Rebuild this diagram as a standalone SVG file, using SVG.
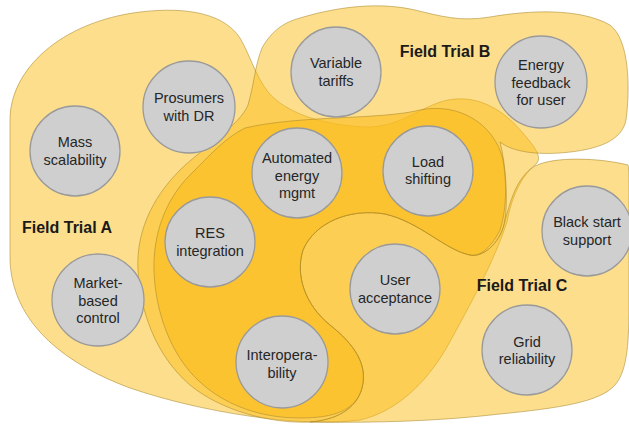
<svg xmlns="http://www.w3.org/2000/svg" width="629" height="425" viewBox="0 0 629 425">
<style>
.blob{fill:#FBBD1A;fill-opacity:0.5;stroke:#A8862A;stroke-opacity:0.55;stroke-width:1}
#core{fill-opacity:0.6}
.node circle{fill:#CFCFCF;stroke:#9A9A9A;stroke-width:1.3}
.node text{font-family:"Liberation Sans",Arial,sans-serif;font-size:14.5px;fill:#262626;text-anchor:middle}
.title{font-family:"Liberation Sans",Arial,sans-serif;font-size:16px;font-weight:bold;fill:#1a1a1a;text-anchor:middle}
</style>
<rect width="629" height="425" fill="#ffffff"/>
<g id="regions">
<path id="trialA" class="blob" d="M 10,120 C 10,70 60,22 140,12 C 190,6 225,15 240,38 C 250,55 255,75 268,92 C 285,112 320,125 365,127 C 400,128 420,106 448,100 C 480,94 505,112 522,132 C 534,146 542,156 537,163 C 522,175 512,195 507,222 C 494,262 470,305 447,347 C 425,385 395,412 360,420 C 300,428 200,412 130,388 C 60,362 12,320 10,260 Z"/>
<path id="trialB" class="blob" d="M 300,18 C 340,6 380,2 415,10 C 440,16 460,22 490,17 C 530,10 580,8 610,25 C 630,40 630,90 626,120 C 622,140 600,150 560,153 C 530,155 510,150 500,142 C 506,165 508,200 505,220 C 502,240 485,258 470,255 C 445,250 420,222 385,214 C 350,208 315,222 303,250 C 295,275 305,305 330,325 C 355,345 368,365 362,388 C 356,410 335,420 310,422 C 270,424 220,410 190,385 C 155,355 140,310 138,270 C 136,235 150,200 180,170 C 205,146 240,125 248,105 C 254,85 255,65 262,48 C 272,30 285,22 300,18 Z"/>
<path id="trialC" class="blob" d="M 628,165 C 600,158 555,156 535,166 C 515,178 510,205 505,220 C 502,240 485,258 470,255 C 445,250 420,222 385,214 C 350,208 315,222 303,250 C 295,275 305,305 330,325 C 355,345 368,365 362,388 C 356,410 335,420 310,422 C 380,423 440,421 500,414 C 560,408 600,402 615,385 C 628,370 629,340 629,300 L 629,200 C 629,180 629,168 628,165 Z"/>
<path id="core" class="blob" d="M 245,128 C 300,115 380,120 420,110 C 460,102 495,125 503,160 C 508,190 505,215 500,230 C 490,250 478,257 470,255 C 445,250 420,222 385,214 C 350,208 315,222 303,250 C 295,275 305,305 330,325 C 355,345 368,365 362,388 C 356,410 335,418 300,418 C 260,418 225,405 200,382 C 170,355 155,310 154,270 C 153,235 165,200 190,175 C 210,155 225,138 245,128 Z"/>
</g>
<text class="title" x="67" y="233">Field Trial A</text>
<text class="title" x="445" y="57">Field Trial B</text>
<text class="title" x="522" y="291">Field Trial C</text>
<g id="mass" class="node"><circle cx="75" cy="151" r="45"/><text x="75" y="147">Mass</text><text x="75" y="165">scalability</text></g>
<g id="prosumers" class="node"><circle cx="189" cy="107" r="46"/><text x="189" y="103">Prosumers</text><text x="189" y="121">with DR</text></g>
<g id="tariffs" class="node"><circle cx="336" cy="72" r="45"/><text x="336" y="68">Variable</text><text x="336" y="86">tariffs</text></g>
<g id="feedback" class="node"><circle cx="541" cy="82" r="46"/><text x="541" y="70">Energy</text><text x="541" y="88">feedback</text><text x="541" y="105">for user</text></g>
<g id="automated" class="node"><circle cx="297" cy="173" r="45"/><text x="297" y="163">Automated</text><text x="297" y="181">energy</text><text x="297" y="198">mgmt</text></g>
<g id="load" class="node"><circle cx="428" cy="171" r="45"/><text x="428" y="167">Load</text><text x="428" y="184">shifting</text></g>
<g id="res" class="node"><circle cx="210" cy="242" r="45"/><text x="210" y="238">RES</text><text x="210" y="256">integration</text></g>
<g id="market" class="node"><circle cx="98" cy="300" r="46"/><text x="98" y="288">Market-</text><text x="98" y="306">based</text><text x="98" y="323">control</text></g>
<g id="interop" class="node"><circle cx="282" cy="362" r="46"/><text x="282" y="360">Interopera-</text><text x="282" y="378">bility</text></g>
<g id="user" class="node"><circle cx="395" cy="289" r="45"/><text x="395" y="285">User</text><text x="395" y="303">acceptance</text></g>
<g id="blackstart" class="node"><circle cx="587" cy="231" r="45"/><text x="587" y="227">Black start</text><text x="587" y="245">support</text></g>
<g id="grid" class="node"><circle cx="527" cy="350" r="45"/><text x="527" y="347">Grid</text><text x="527" y="364">reliability</text></g>
</svg>
